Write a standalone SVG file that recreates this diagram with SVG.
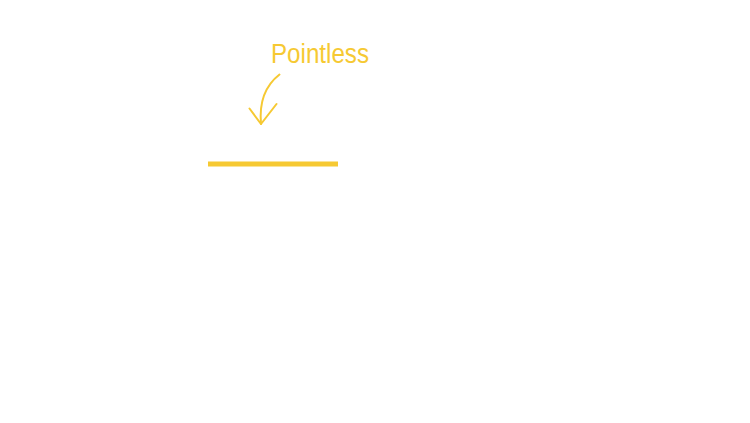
<svg xmlns="http://www.w3.org/2000/svg" width="750" height="423" viewBox="0 0 750 423">
<style>
.y{stroke:#f6c933;fill:none;stroke-linecap:round;stroke-linejoin:round}
.b{stroke:#f6c933;fill:none;stroke-linecap:butt}
.t{font-family:"Liberation Sans",Arial,sans-serif;fill:#f6c933;font-size:27px}
</style>
<rect width="750" height="423" fill="#ffffff"/>
<g id="label"><text class="t" x="271" y="63" textLength="98" lengthAdjust="spacingAndGlyphs">Pointless</text></g>
<g id="line"><line class="b" x1="208" y1="164" x2="338" y2="164" stroke-width="5"/></g>
<g id="connectors">
<path class="y" stroke-width="2" d="M279.5 74.5 C266 85 259 102 261 124"/>
<path class="y" stroke-width="2" d="M249.5 108.5 L261 124 L276.5 104"/>
</g>
</svg>
